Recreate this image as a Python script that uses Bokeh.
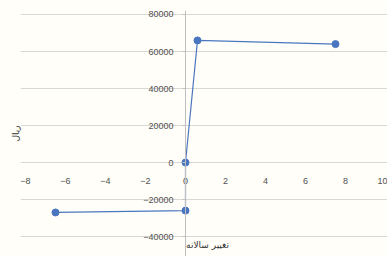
from bokeh.plotting import figure
from bokeh.embed import file_html
from bokeh.resources import INLINE
from bokeh.models import Label, FixedTicker, Range1d, LinearAxis

x_vals = [-6.5, 0.0, 0.0, 0.6, 7.5]
y_vals = [-27000, -26000, 0, 66000, 64000]
x_ticks = [-8, -6, -4, -2, 0, 2, 4, 6, 8, 10]
y_ticks = [-40000, -20000, 0, 20000, 40000, 60000, 80000]
x_title = "تغییر سالانه"
y_title = "ریال"

blue = "#4a76c0"
bg = "#fffef8"

p = figure(width=387, height=256, output_backend="svg", toolbar_location=None,
           x_range=Range1d(-8.25, 10.1), y_range=Range1d(-50800, 82160),
           min_border_left=20, min_border_right=0, min_border_top=10, min_border_bottom=0,
           background_fill_color=bg, border_fill_color=bg, outline_line_color=None)

p.line(x_vals, y_vals, line_color=blue, line_width=1.2)
p.scatter(x_vals, y_vals, size=7, fill_color=blue, line_color=blue)

p.xgrid.visible = False
p.ygrid.ticker = FixedTicker(ticks=y_ticks)
p.ygrid.grid_line_color = "#d8d8d4"

p.yaxis.ticker = FixedTicker(ticks=y_ticks)
p.yaxis.fixed_location = 0
p.yaxis.axis_line_color = "#bfbfbf"
p.yaxis.major_tick_line_color = "#bfbfbf"
p.yaxis.major_tick_in = 0
p.yaxis.major_tick_out = 3
p.yaxis.minor_tick_line_color = None
p.yaxis.major_label_text_font_size = "9px"
p.yaxis.major_label_text_color = "#505050"
p.yaxis.major_label_text_font = "Liberation Sans"
p.yaxis.major_label_standoff = 9

p.xaxis.ticker = FixedTicker(ticks=x_ticks)
p.xaxis.fixed_location = -2800
p.xaxis.axis_line_color = None
p.xaxis.major_tick_line_color = None
p.xaxis.minor_tick_line_color = None
p.xaxis.major_label_text_font_size = "9px"
p.xaxis.major_label_text_color = "#505050"
p.xaxis.major_label_text_font = "Liberation Sans"
p.xaxis.major_label_standoff = 4

title_axis = LinearAxis(ticker=FixedTicker(ticks=[]), axis_label=y_title,
                        axis_line_color=None, major_tick_line_color=None,
                        minor_tick_line_color=None, major_label_text_font_size="0px",
                        axis_label_text_font_size="9px", axis_label_text_color="#333333",
                        axis_label_text_font="DejaVu Sans", axis_label_text_font_style="normal",
                        axis_label_standoff=0, major_label_standoff=0,
                        major_tick_out=0, major_tick_in=0)
p.add_layout(title_axis, "left")

p.add_layout(Label(x=1.1, y=-44800, text=x_title, text_font_size="9px",
                   text_color="#333333", text_font="DejaVu Sans",
                   text_align="center", text_baseline="middle"))

open("out.html", "w").write(file_html(p, INLINE))
